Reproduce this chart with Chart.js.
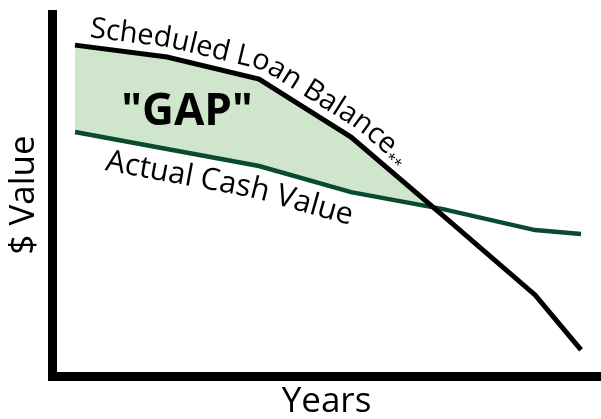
<!DOCTYPE html>
<html><head><meta charset="utf-8">
<script src="https://cdn.jsdelivr.net/npm/chart.js@4.4.0/dist/chart.umd.min.js"></script>
<style>html,body{margin:0;padding:0;background:#fff;}#c{display:block}</style>
</head><body>
<canvas id="c" width="601" height="419"></canvas>
<script>
// ---- data ----
const years = [0, 1, 2, 3, 4, 5, 5.5];
const scheduledLoanBalance = [91.4, 88.1, 82.0, 66.0, 44.3, 22.4, 7.2];
const actualCashValue = [67.4, 62.7, 58.0, 50.8, 46.1, 40.3, 39.2];
const seriesNames = ['Scheduled Loan Balance', 'Actual Cash Value'];
const seriesSuffix = ['**', ''];
const axisTitles = { x: 'Years', y: '$ Value' };
const gapLabel = '"GAP"';

const FONT = '"Open Sans", "Noto Sans", sans-serif';

function toPoints(xs, ys) { return xs.map((x, i) => ({ x: x, y: ys[i] })); }

// text placed along a (smoothed, offset) copy of a dataset's line
const pathLabels = {
  id: 'pathLabels',
  afterDatasetsDraw(chart, args, opts) {
    const ctx = chart.ctx;
    opts.items.forEach(item => {
      const meta = chart.getDatasetMeta(item.dataset);
      const pts = meta.data.map(p => ({ x: p.x, y: p.y }));
      const cum = [0];
      for (let i = 1; i < pts.length; i++) cum.push(cum[i - 1] + Math.hypot(pts[i].x - pts[i - 1].x, pts[i].y - pts[i - 1].y));
      const L = cum[cum.length - 1];
      const at = s => {
        if (s <= 0) { const a = pts[0], b = pts[1], d = cum[1]; return { x: a.x + (b.x - a.x) * s / d, y: a.y + (b.y - a.y) * s / d }; }
        let i = 1; while (i < cum.length - 1 && cum[i] < s) i++;
        const a = pts[i - 1], b = pts[i], t = (s - cum[i - 1]) / (cum[i] - cum[i - 1]);
        return { x: a.x + (b.x - a.x) * t, y: a.y + (b.y - a.y) * t };
      };
      const win = item.smooth;
      const op = [];
      for (let s = -20; s <= L; s += 1) {
        const a = at(Math.max(-20, s - win)), b = at(Math.min(L, s + win));
        const ang = Math.atan2(b.y - a.y, b.x - a.x);
        const p = at(s);
        op.push({ x: p.x + Math.sin(ang) * item.offset, y: p.y - Math.cos(ang) * item.offset });
      }
      const oc = [0];
      for (let i = 1; i < op.length; i++) oc.push(oc[i - 1] + Math.hypot(op[i].x - op[i - 1].x, op[i].y - op[i - 1].y));
      const oat = s => {
        let i = 1; while (i < oc.length - 1 && oc[i] < s) i++;
        const a = op[i - 1], b = op[i], t = Math.max(0, Math.min(1, (s - oc[i - 1]) / (oc[i] - oc[i - 1])));
        return { x: a.x + (b.x - a.x) * t, y: a.y + (b.y - a.y) * t };
      };
      let s = oc[20] + item.start;
      ctx.save();
      ctx.fillStyle = item.color;
      ctx.textBaseline = 'alphabetic';
      item.parts.forEach(part => {
        ctx.font = part.font;
        const t = part.text;
        for (let i = 0; i < t.length; i++) {
          const w0 = ctx.measureText(t.slice(0, i)).width;
          const w1 = ctx.measureText(t.slice(0, i + 1)).width;
          const w = w1 - w0;
          const mid = s + w0 + w / 2;
          const a = oat(mid - win), b = oat(mid + win);
          const ang = Math.atan2(b.y - a.y, b.x - a.x);
          const p = oat(mid);
          const dy = part.dy || 0;
          ctx.save();
          ctx.translate(p.x - Math.sin(ang) * dy, p.y + Math.cos(ang) * dy);
          ctx.rotate(ang);
          ctx.fillText(t[i], -w / 2, 0);
          ctx.restore();
        }
        s += ctx.measureText(t).width + (part.gap || 0);
      });
      ctx.restore();
    });
  }
};

const gapText = {
  id: 'gapText',
  afterDatasetsDraw(chart, args, opts) {
    const ctx = chart.ctx;
    const x = chart.scales.x.getPixelForValue(opts.x);
    const y = chart.scales.y.getPixelForValue(opts.y);
    ctx.save();
    ctx.font = 'bold 44px ' + FONT;
    ctx.fillStyle = '#000';
    ctx.textAlign = 'center';
    ctx.textBaseline = 'alphabetic';
    ctx.fillText(opts.text, x, y);
    ctx.restore();
  }
};

new Chart(document.getElementById('c'), {
  type: 'line',
  data: {
    datasets: [
      {
        label: seriesNames[0],
        data: toPoints(years, scheduledLoanBalance),
        borderColor: '#000',
        borderWidth: 5,
        pointRadius: 0,
        tension: 0,
        fill: { target: 1, above: '#cfe6cc', below: 'rgba(0,0,0,0)' }
      },
      {
        label: seriesNames[1],
        data: toPoints(years, actualCashValue),
        borderColor: '#0a4a2e',
        borderWidth: 4.5,
        pointRadius: 0,
        tension: 0,
        fill: false
      }
    ]
  },
  options: {
    responsive: false,
    animation: false,
    devicePixelRatio: 1,
    events: [],
    layout: { padding: { top: 14, right: 0, left: 0, bottom: 0 } },
    plugins: {
      legend: { display: false },
      tooltip: { enabled: false },
      filler: { drawTime: 'beforeDatasetsDraw' },
      pathLabels: {
        items: [
          { dataset: 0, offset: 10, start: 13, smooth: 18, color: '#000',
            parts: [ { text: seriesNames[0], font: '29px ' + FONT, gap: 0 },
                     { text: seriesSuffix[0], font: '15px ' + FONT, dy: 6 } ] },
          { dataset: 1, offset: -32, start: 36, smooth: 18, color: '#000',
            parts: [ { text: seriesNames[1], font: '30.5px ' + FONT } ] }
        ]
      },
      gapText: { text: gapLabel, x: 1.217, y: 69.3 }
    },
    scales: {
      x: {
        type: 'linear', min: -0.25, max: 5.717,
        grid: { display: false, drawTicks: false },
        border: { display: true, width: 9, color: '#000' },
        ticks: { display: false },
        title: { display: true, text: axisTitles.x, color: '#000', font: { family: FONT, size: 35, lineHeight: 0.95 }, padding: { top: 0, bottom: 0 } },
        afterFit: s => { s.height = 43; }
      },
      y: {
        min: 0, max: 100,
        grid: { display: false, drawTicks: false },
        border: { display: true, width: 9, color: '#000' },
        ticks: { display: false },
        title: { display: true, text: axisTitles.y, color: '#000', font: { family: FONT, size: 35, lineHeight: 1.1 }, padding: { top: 5, bottom: 0 } },
        afterFit: s => { s.width = 52; }
      }
    }
  },
  plugins: [pathLabels, gapText]
});
</script>
</body></html>
